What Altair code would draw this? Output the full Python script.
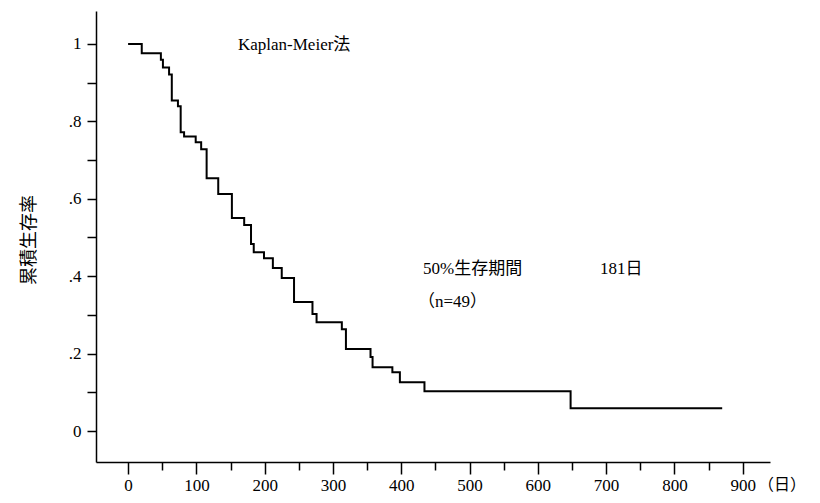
import altair as alt
import pandas as pd

# Kaplan-Meier step curve (days, cumulative survival after the step)
days = [0, 20, 48, 51, 60, 64, 73, 77, 82, 99, 107, 115, 132, 152, 170, 180,
        184, 199, 212, 225, 243, 270, 276, 313, 319, 355, 358, 387, 398, 434,
        648, 870]
surv = [1.0, 0.976, 0.959, 0.939, 0.921, 0.854, 0.839, 0.772, 0.761, 0.746,
        0.728, 0.653, 0.612, 0.550, 0.532, 0.483, 0.462, 0.446, 0.421, 0.395,
        0.333, 0.302, 0.281, 0.263, 0.212, 0.191, 0.165, 0.152, 0.126, 0.103,
        0.059, 0.059]

x_ticks = list(range(0, 901, 50))
y_ticks = [round(i * 0.1, 1) for i in range(0, 11)]

y_title = "累積生存率"
x_unit = "（日）"
method_label = "Kaplan-Meier法"
median_label = "50%生存期間"
median_value = "181日"
n_label = "（n=49）"

df = pd.DataFrame({"day": days, "surv": surv})

SERIF = "Liberation Serif"
CJK = "Noto Sans CJK JP"

line = alt.Chart(df).mark_line(
    interpolate="step-after", color="black", strokeWidth=2
).encode(
    x=alt.X(
        "day:Q",
        scale=alt.Scale(domain=[-47, 940], nice=False, zero=False),
        axis=alt.Axis(
            values=x_ticks,
            labelExpr="datum.value % 100 == 0 ? datum.value + '' : ''",
            tickSize={"condition": {"test": "datum.value % 100 == 0", "value": 12}, "value": 8},
            tickColor="black", tickWidth=1.5,
            domainColor="black", domainWidth=1.5,
            labelFont=SERIF, labelFontSize=17, labelColor="black",
            labelPadding=3, grid=False, title=None,
        ),
    ),
    y=alt.Y(
        "surv:Q",
        scale=alt.Scale(domain=[-0.08, 1.085], nice=False, zero=False),
        axis=alt.Axis(
            values=y_ticks,
            labelExpr="round(datum.value*10) % 2 == 0 ? (datum.value >= 1 ? '1' : (datum.value <= 0 ? '0' : '.' + round(datum.value*10))) : ''",
            tickSize=9, tickColor="black", tickWidth=1.5,
            domainColor="black", domainWidth=1.5,
            labelFont=SERIF, labelFontSize=17, labelColor="black",
            labelPadding=6, grid=False, title=None,
        ),
    ),
)


def label(text, x, y, font=SERIF, size=17, align="left", angle=0):
    return alt.Chart(alt.Data(values=[{}])).mark_text(
        text=text, font=font, fontSize=size, color="black",
        align=align, baseline="middle", angle=angle,
    ).encode(x=alt.value(x), y=alt.value(y))


texts = [
    label(method_label, 142, 34, font=SERIF + ", " + CJK, size=17),
    label(median_label, 327, 258, font=SERIF + ", " + CJK, size=17),
    label(median_value, 504, 258, font=SERIF + ", " + CJK, size=17),
    label(n_label, 322, 291, font=SERIF + ", " + CJK, size=17),
    label(x_unit, 662, 474, font=CJK, size=16),
    label(y_title, -66, 229, font=CJK, size=18, align="center", angle=270),
]

chart = alt.layer(line, *texts).properties(
    width=674,
    height=451,
    autosize=alt.AutoSizeParams(type="none"),
    padding={"left": 88, "top": 3, "right": 42, "bottom": 33},
    background="white",
).configure_view(stroke=None)

chart.save("out.html", embed_options={"renderer": "svg", "actions": False})
